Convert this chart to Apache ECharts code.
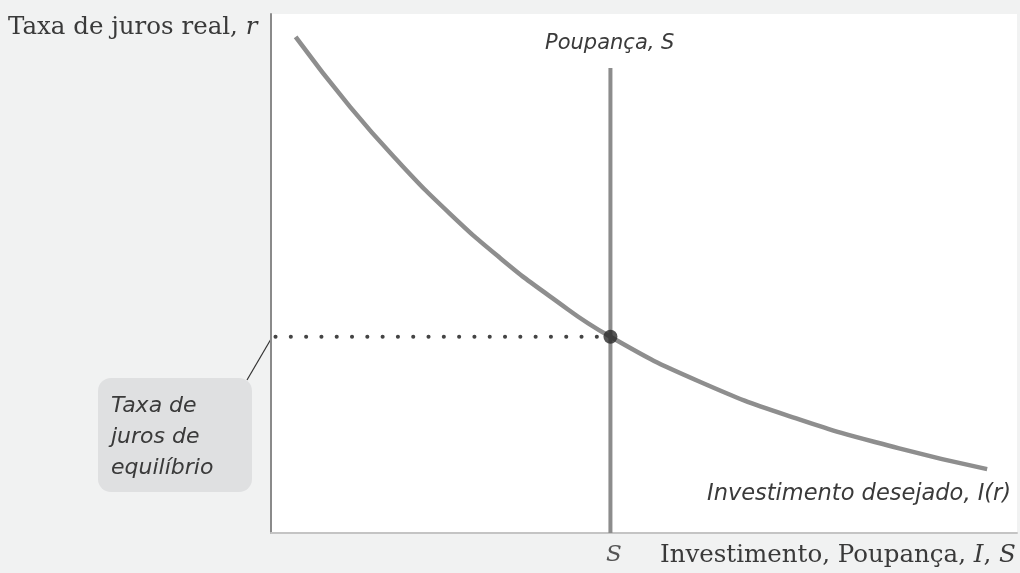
<!DOCTYPE html>
<html>
<head>
<meta charset="utf-8">
<script src="https://cdn.jsdelivr.net/npm/echarts@6/dist/echarts.min.js"></script>
<style>
  html, body { margin: 0; padding: 0; background: #f1f2f2; }
  #chart { width: 1020px; height: 573px; }
</style>
</head>
<body>
<div id="chart"></div>
<script>
// desired investment curve I(r) (0-100 scales)
const investX = [3.3, 10.6, 17.3, 24.0, 30.7, 37.3, 45.5, 57.4, 70.8, 84.2, 96.0];
const investY = [95.6, 82.1, 71.2, 61.5, 53.0, 45.7, 37.8, 29.2, 21.9, 16.3, 12.3];

// savings (vertical) and equilibrium
const savingX = 45.5;
const savingTop = 89.6;
const rEquil = 37.8;
const dottedStart = 0.6;

const chartDom = document.getElementById("chart");
const myChart = echarts.init(chartDom);

const serif = "DejaVu Serif";
const sans = "DejaVu Sans";

const option = {
  backgroundColor: "#f1f2f2",
  animation: false,
  grid: {
    left: 271,
    top: 14,
    right: 3,
    bottom: 40,
    show: true,
    backgroundColor: "#ffffff",
    borderWidth: 0,
  },
  xAxis: {
    type: "value",
    min: 0,
    max: 100,
    axisLine: { show: true, lineStyle: { color: "#c4c4c4", width: 2 } },
    axisTick: { show: false },
    axisLabel: { show: false },
    splitLine: { show: false },
  },
  yAxis: {
    type: "value",
    min: 0,
    max: 100,
    axisLine: { show: true, lineStyle: { color: "#8a8a8a", width: 2 } },
    axisTick: { show: false },
    axisLabel: { show: false },
    splitLine: { show: false },
  },
  series: [
    {
      name: "Investimento desejado",
      type: "line",
      smooth: true,
      symbol: "none",
      lineStyle: { color: "#8e8e8e", width: 4.5 },
      data: investX.map((x, i) => [x, investY[i]]),
      z: 3,
    },
    {
      name: "Poupança",
      type: "line",
      symbol: "none",
      lineStyle: { color: "#8c8c8c", width: 4 },
      data: [
        [savingX, 0],
        [savingX, savingTop],
      ],
      z: 2,
    },
    {
      name: "Equilíbrio",
      type: "line",
      symbol: "none",
      lineStyle: { color: "#444444", width: 4, type: [0.1, 15.2], cap: "round" },
      data: [
        [dottedStart, rEquil],
        [savingX, rEquil],
      ],
      z: 2,
    },
    {
      type: "scatter",
      symbolSize: 14,
      itemStyle: { color: "#2a2a2a" },
      data: [[savingX, rEquil]],
      z: 5,
    },
  ],
  graphic: [
    {
      type: "text",
      left: 8,
      top: 15,
      style: {
        text: "Taxa de juros real, {i|r}",
        font: "24.5px " + serif,
        fill: "#3a3a3a",
        rich: { i: { fontStyle: "italic", fontSize: 24.5, fontFamily: serif, fill: "#3a3a3a" } },
      },
    },
    {
      type: "text",
      left: 545,
      top: 33,
      style: {
        text: "Poupança, S",
        font: "italic 21px " + sans,
        fill: "#3a3a3a",
      },
    },
    {
      type: "text",
      left: 707,
      top: 483,
      style: {
        text: "Investimento desejado, I(r)",
        font: "italic 22.5px " + sans,
        fill: "#3a3a3a",
      },
    },
    {
      type: "text",
      left: 606,
      top: 544,
      style: { text: "S", font: "italic 23px " + serif, fill: "#555555" },
    },
    {
      type: "text",
      left: 660,
      top: 543,
      style: {
        text: "Investimento, Poupança, {i|I}, {i|S}",
        font: "24.5px " + serif,
        fill: "#3a3a3a",
        rich: { i: { fontStyle: "italic", fontSize: 24.5, fontFamily: serif, fill: "#3a3a3a" } },
      },
    },
    {
      type: "line",
      shape: { x1: 271, y1: 339, x2: 247, y2: 380 },
      style: { stroke: "#333333", lineWidth: 1.2 },
    },
    {
      type: "rect",
      shape: { x: 98, y: 378, width: 154, height: 114, r: 13 },
      style: { fill: "#dfe0e1" },
    },
    {
      type: "text",
      left: 111,
      top: 391,
      style: {
        text: "Taxa de\njuros de\nequilíbrio",
        font: "italic 22px " + sans,
        lineHeight: 31,
        fill: "#3a3a3a",
      },
    },
  ],
};

myChart.setOption(option);
</script>
</body>
</html>
